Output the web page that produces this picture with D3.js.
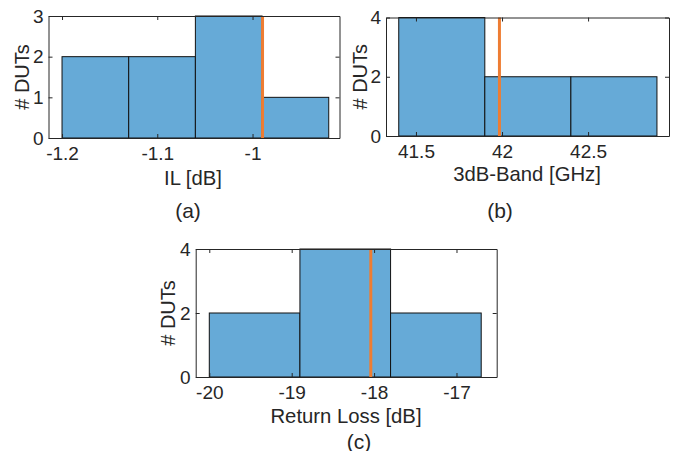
<!DOCTYPE html>
<html><head><meta charset="utf-8">
<script src="https://cdn.jsdelivr.net/npm/d3@7"></script>
<style>body{margin:0;background:#fff}svg{display:block}text{font-family:Arial,"Liberation Sans",Helvetica,sans-serif;fill:#262626}</style>
</head><body>
<script>
// Panel (a): IL [dB]
const ilEdges = [-1.2, -1.13, -1.06, -0.99, -0.92];
const ilCounts = [2, 2, 3, 1];
const ilMarker = -0.9895;
const ilXTicks = [-1.2, -1.1, -1];
const ilYTicks = [0, 1, 2, 3];
// Panel (b): 3dB-Band [GHz]
const bwEdges = [41.4, 41.9, 42.4, 42.9];
const bwCounts = [4, 2, 2];
const bwMarker = 41.985;
const bwXTicks = [41.5, 42, 42.5];
const bwYTicks = [0, 2, 4];
// Panel (c): Return Loss [dB]
const rlEdges = [-20, -18.9, -17.8, -16.7];
const rlCounts = [2, 4, 2];
const rlMarker = -18.04;
const rlXTicks = [-20, -19, -18, -17];
const rlYTicks = [0, 2, 4];

const W = 673, H = 451;
const svg = d3.select("body").append("svg").attr("width", W).attr("height", H);
const fmt = d => d3.format("~g")(d).replace("\u2212", "-");

function panel(o) {
  const g = svg.append("g");
  const x = d3.scaleLinear().domain(o.xdom).range([o.x0, o.x1]);
  const y = d3.scaleLinear().domain(o.ydom).range([o.y1, o.y0]);
  o.counts.forEach((c, i) => {
    g.append("rect")
      .attr("x", x(o.edges[i])).attr("y", y(c))
      .attr("width", x(o.edges[i + 1]) - x(o.edges[i]))
      .attr("height", y(0) - y(c))
      .attr("fill", "#66aad7").attr("stroke", "#111").attr("stroke-width", 1);
  });
  g.append("line").attr("x1", x(o.marker)).attr("x2", x(o.marker))
    .attr("y1", y(o.ydom[1])).attr("y2", y(0))
    .attr("stroke", "#ee7d33").attr("stroke-width", 3);
  const tl = 4;
  const bottom = d3.axisBottom(x).tickValues(o.xticks).tickSizeInner(-tl).tickSizeOuter(0).tickPadding(9).tickFormat(fmt);
  const top = d3.axisTop(x).tickValues(o.xticks).tickSizeInner(-tl).tickSizeOuter(0).tickFormat("");
  const left = d3.axisLeft(y).tickValues(o.yticks).tickSizeInner(-tl).tickSizeOuter(0).tickPadding(5).tickFormat(fmt);
  const right = d3.axisRight(y).tickValues(o.yticks).tickSizeInner(-tl).tickSizeOuter(0).tickFormat("");
  const styl = s => { s.selectAll("path").attr("stroke", "#262626"); s.selectAll("line").attr("stroke", "#262626"); s.selectAll("text").style("font-size", "19px").attr("fill", "#262626"); };
  g.append("g").attr("transform", `translate(0,${o.y1})`).call(bottom).call(styl);
  g.append("g").attr("transform", `translate(0,${o.y0})`).call(top).call(styl);
  g.append("g").attr("transform", `translate(${o.x0},0)`).call(left).call(styl);
  g.append("g").attr("transform", `translate(${o.x1},0)`).call(right).call(styl);
  g.selectAll(".domain").attr("stroke-width", 1);
  g.append("text").attr("x", o.xlabX).attr("y", o.xlabY).attr("text-anchor", "middle")
    .style("font-size", "20.3px").text(o.xlabel);
  g.append("text").attr("transform", `translate(${o.ylabX},${(o.y0 + o.y1) / 2}) rotate(-90)`)
    .attr("text-anchor", "middle").style("font-size", "20px").text("# DUTs");
  g.append("text").attr("x", o.capX).attr("y", o.capY).attr("text-anchor", "middle")
    .style("font-size", "21px").text(o.caption);
}

panel({ edges: ilEdges, counts: ilCounts, marker: ilMarker, xticks: ilXTicks, yticks: ilYTicks,
  xdom: [-1.2142, -0.9087], ydom: [0, 3], x0: 48.5, x1: 339.5, y0: 16, y1: 138,
  xlabel: "IL [dB]", xlabX: 193, xlabY: 185, ylabX: 28.5, caption: "(a)", capX: 188, capY: 218 });
panel({ edges: bwEdges, counts: bwCounts, marker: bwMarker, xticks: bwXTicks, yticks: bwYTicks,
  xdom: [41.326, 42.97], ydom: [0, 4], x0: 386, x1: 669, y0: 17.5, y1: 136,
  xlabel: "3dB-Band [GHz]", xlabX: 527, xlabY: 181, ylabX: 367, caption: "(b)", capX: 500, capY: 218 });
panel({ edges: rlEdges, counts: rlCounts, marker: rlMarker, xticks: rlXTicks, yticks: rlYTicks,
  xdom: [-20.165, -16.512], ydom: [0, 4], x0: 195.7, x1: 496.7, y0: 249, y1: 377,
  xlabel: "Return Loss [dB]", xlabX: 346, xlabY: 422.5, ylabX: 175, caption: "(c)", capX: 359, capY: 448.5 });
</script>
</body></html>
